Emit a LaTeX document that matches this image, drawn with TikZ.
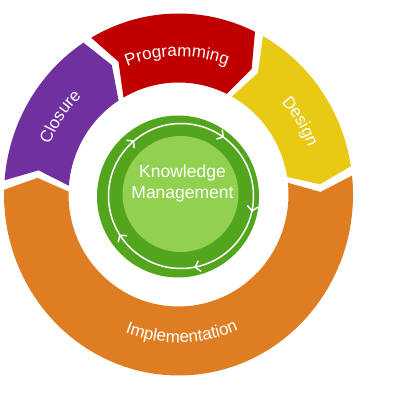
\documentclass[tikz,border=0pt]{standalone}
\usepackage{fontspec}
\setmainfont{Liberation Sans}
\usepackage{tikz}
\usetikzlibrary{arrows.meta}
\usetikzlibrary{decorations.text}
\usetikzlibrary{decorations.markings}

\definecolor{implcol}{RGB}{223,125,35}
\definecolor{closecol}{RGB}{112,48,160}
\definecolor{progcol}{RGB}{192,0,0}
\definecolor{designcol}{RGB}{232,202,20}
\definecolor{kmdark}{RGB}{84,165,30}
\definecolor{kmlight}{RGB}{146,208,80}

\newcommand{\segfont}{\fontsize{17}{17}\selectfont}

\tikzset{
  segtext/.style={decorate, decoration={text along path, text align=center, text color=white}},
  ringline/.style={draw=white, line width=1.5pt},
  >={Straight Barb[length=4.5pt,width=11pt]}
}

\begin{document}
\begin{tikzpicture}[x=1pt, y=1pt]
\useasboundingbox (0,0) rectangle (400,400);

\begin{scope}[shift={(178.5,205.5)}]
\fill[implcol] (6:174.5 and 181) arc[start angle=6, end angle=-181.5, x radius=174.5, y radius=181] -- (-186.5:142 and 146.5) -- (-181.5:110 and 112) arc[start angle=-181.5, end angle=6, x radius=110, y radius=112] -- (1:142 and 146.5) -- cycle;
\fill[closecol] (175.5:174.5 and 181) arc[start angle=175.5, end angle=123, x radius=174.5, y radius=181] -- (118:142 and 146.5) -- (123:110 and 112) arc[start angle=123, end angle=175.5, x radius=110, y radius=112] -- (170.5:142 and 146.5) -- cycle;
\fill[progcol] (120:174.5 and 181) arc[start angle=120, end angle=64, x radius=174.5, y radius=181] -- (59:142 and 146.5) -- (64:110 and 112) arc[start angle=64, end angle=120, x radius=110, y radius=112] -- (115:142 and 146.5) -- cycle;
\fill[designcol] (61:174.5 and 181) arc[start angle=61, end angle=9, x radius=174.5, y radius=181] -- (4:142 and 146.5) -- (9:110 and 112) arc[start angle=9, end angle=61, x radius=110, y radius=112] -- (56:142 and 146.5) -- cycle;

\path[segtext, decoration={text={|\segfont|Programming}}] (130.6:138) arc[start angle=130.6, end angle=50.6, radius=138];
\path[segtext, decoration={text={|\segfont|Closure}}] (186.8:138) arc[start angle=186.8, end angle=106.8, radius=138];
\path[segtext, decoration={text={|\segfont|Design}}] (70.9:138) arc[start angle=70.9, end angle=-9.1, radius=138];
\path[segtext, decoration={text={|\segfont|Implementation}}] (221.4:148) arc[start angle=221.4, end angle=321.4, radius=148];
\end{scope}

\node[circle, fill=kmdark, minimum size=162pt, inner sep=0pt, name=km] at (178,203.5) {};
\node[circle, fill=kmlight, minimum size=116pt, inner sep=0pt, name=kmcore] at (180.5,206) {};
\draw[ringline, postaction={decorate}, decoration={markings,
  mark=at position 0.163 with {\arrow{<}},
  mark=at position 0.375 with {\arrow{<}},
  mark=at position 0.6025 with {\arrow{<}},
  mark=at position 0.793 with {\arrow{<}},
  mark=at position 0.979 with {\arrow{<}}}] (181,204) circle[radius=72.5];
\node[align=center, text=white, font=\fontsize{17.5}{21}\selectfont, name=kmlabel] at (182.5,216.9) {Knowledge\\Management};
\end{tikzpicture}
\end{document}
